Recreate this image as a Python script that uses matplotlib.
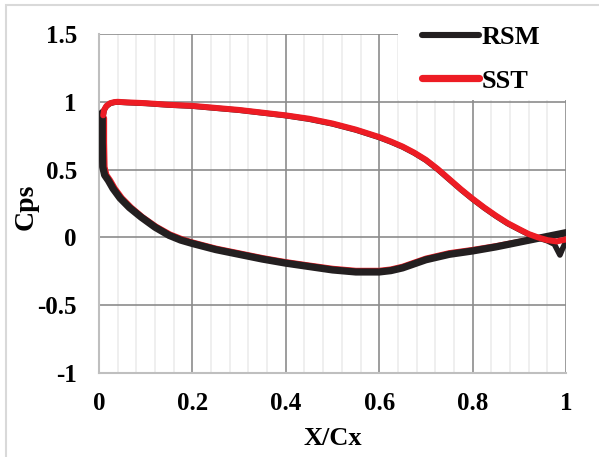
import matplotlib
matplotlib.use("Agg")
import matplotlib.pyplot as plt
from matplotlib.patches import Rectangle

# dados (Cps x X/Cx)
# lado de cima (SST)
x_up = [0.009, 0.011, 0.016, 0.024, 0.033, 0.04, 0.06, 0.1, 0.15, 0.2, 0.25, 0.3, 0.35, 0.4,
        0.45, 0.5, 0.55, 0.6, 0.625, 0.65, 0.675, 0.7, 0.725, 0.75, 0.775, 0.8, 0.825,
        0.85, 0.875, 0.9, 0.92, 0.94, 0.96, 0.98, 1.0]
sst_up = [0.90, 0.94, 0.97, 0.99, 0.998, 1.0, 0.996, 0.99, 0.978, 0.97, 0.955, 0.94, 0.92, 0.90,
          0.875, 0.84, 0.795, 0.74, 0.707, 0.67, 0.625, 0.572, 0.505, 0.43, 0.355, 0.285, 0.22,
          0.16, 0.105, 0.06, 0.025, 0.0, -0.02, -0.03, -0.015]

# lado de cima (RSM), quase todo coberto pelo SST
x_up_rsm = [0.009, 0.011, 0.016, 0.024, 0.033, 0.04, 0.06, 0.1, 0.15, 0.2, 0.25, 0.3, 0.35, 0.4,
            0.45, 0.5, 0.55, 0.6, 0.625, 0.65, 0.675, 0.7, 0.725, 0.75, 0.775, 0.8, 0.825,
            0.85, 0.875, 0.9, 0.92, 0.94, 0.96, 0.975, 0.987, 0.993, 1.0]
rsm_up = [0.90, 0.94, 0.968, 0.988, 0.996, 0.998, 0.994, 0.988, 0.976, 0.968, 0.953, 0.938, 0.918, 0.898,
          0.872, 0.837, 0.792, 0.737, 0.704, 0.667, 0.622, 0.569, 0.502, 0.427, 0.352, 0.282, 0.217,
          0.157, 0.102, 0.057, 0.022, -0.003, -0.025, -0.05, -0.13, -0.08, -0.03]

# lado de baixo (RSM)
x_low = [0.007, 0.007, 0.008, 0.012, 0.02, 0.03, 0.045, 0.065, 0.09, 0.12, 0.15, 0.175, 0.2,
         0.25, 0.3, 0.35, 0.4, 0.45, 0.5, 0.55, 0.6, 0.625, 0.65, 0.675, 0.7, 0.75, 0.8,
         0.85, 0.9, 0.95, 1.0]
rsm_low = [0.92, 0.7, 0.52, 0.46, 0.42, 0.36, 0.29, 0.22, 0.15, 0.075, 0.015, -0.02, -0.045,
           -0.09, -0.125, -0.16, -0.19, -0.215, -0.24, -0.255, -0.255, -0.245, -0.225, -0.195,
           -0.165, -0.125, -0.10, -0.07, -0.035, 0.0, 0.035]

# lado de baixo (SST)
x_low_sst = [0.011, 0.011, 0.012, 0.016, 0.024, 0.034, 0.049, 0.069, 0.093, 0.122, 0.152, 0.177, 0.2,
             0.25, 0.3, 0.35, 0.4, 0.45, 0.5, 0.55, 0.6, 0.625, 0.65, 0.675, 0.7, 0.75, 0.8,
             0.85, 0.9, 0.95, 1.0]
sst_low = [0.88, 0.7, 0.52, 0.46, 0.42, 0.36, 0.29, 0.22, 0.15, 0.08, 0.022, -0.012, -0.037,
           -0.082, -0.117, -0.152, -0.182, -0.207, -0.231, -0.246, -0.246, -0.236, -0.216, -0.186,
           -0.156, -0.116, -0.092, -0.064, -0.032, 0.0, 0.03]

xticks = [0, 0.2, 0.4, 0.6, 0.8, 1.0]
xlabels = ['0', '0.2', '0.4', '0.6', '0.8', '1']
yticks = [-1, -0.5, 0, 0.5, 1, 1.5]
ylabels = ['-1', '-0.5', '0', '0.5', '1', '1.5']

preto = '#231f20'
vermelho = '#ed1c24'
fonte = 'Liberation Serif'

fig = plt.figure(figsize=(5.99, 4.57), dpi=100)
ax = fig.add_axes([99 / 599, 84 / 457, 467 / 599, 339 / 457])

# curvas
ax.plot(x_up_rsm, rsm_up, color=preto, lw=4.0, zorder=2, solid_capstyle='round')
ax.plot(x_low_sst, sst_low, color=vermelho, lw=4.3, zorder=2.5, solid_capstyle='round')
l_rsm, = ax.plot(x_low, rsm_low, color=preto, lw=5.2, zorder=3, solid_capstyle='round', label='RSM')
l_sst, = ax.plot(x_up, sst_up, color=vermelho, lw=4.3, zorder=4, solid_capstyle='round', label='SST')

ax.set_xlim(0, 1)
ax.set_ylim(-1, 1.5)
ax.set_xticks(xticks, xlabels)
ax.set_yticks(yticks, ylabels)
ax.set_xticks([i * 0.04 for i in range(26)], minor=True)
ax.tick_params(which='both', length=0)
ax.tick_params(axis='y', pad=16)
ax.tick_params(axis='x', pad=14)
for t in ax.get_xticklabels() + ax.get_yticklabels():
    t.set_fontfamily(fonte)
    t.set_fontweight('bold')
    t.set_fontsize(18)

ax.set_axisbelow(True)
ax.grid(which='minor', axis='x', color='#ececec', lw=1.2)
ax.grid(which='major', color='#8c8c8c', lw=1.2)

for s in ['top', 'right']:
    ax.spines[s].set_visible(False)
for s in ['left', 'bottom']:
    ax.spines[s].set_color('#bfbfbf')
    ax.spines[s].set_linewidth(1.5)
    ax.spines[s].set_zorder(1)

ax.set_xlabel('X/Cx', fontfamily=fonte, fontweight='bold', fontsize=19)
ax.set_ylabel('Cps', fontfamily=fonte, fontweight='bold', fontsize=20)
ax.xaxis.set_label_coords(0.5, (373 - 427) / 339)
ax.yaxis.set_label_coords((39 - 99) / 467, 0.49)

# área branca atrás da legenda (esconde a grade)
ax.add_patch(Rectangle(((398 - 99) / 467, (373 - 100) / 339), 0.4, 0.3, transform=ax.transAxes,
                       facecolor='white', edgecolor='none', zorder=1, clip_on=False))

leg = ax.legend(handles=[l_rsm, l_sst], loc='upper left',
                bbox_to_anchor=(422 / 599, 1 - 26 / 457), bbox_transform=fig.transFigure,
                prop={'family': fonte, 'weight': 'bold', 'size': 19},
                frameon=False, handlelength=2.15, handletextpad=0.12, labelspacing=0.75,
                borderpad=0, borderaxespad=0)
leg.set_zorder(10)
leg.get_lines()[0].set_linewidth(4.4)
leg.get_lines()[1].set_linewidth(5.2)

# borda cinza da figura
fig.patches.append(Rectangle((6 / 599, -0.1), 1.2, 1.1 - 5 / 457, transform=fig.transFigure,
                             fill=False, edgecolor='#d9d9d9', lw=1.5, clip_on=False))

fig.savefig('out.png', dpi=100)
